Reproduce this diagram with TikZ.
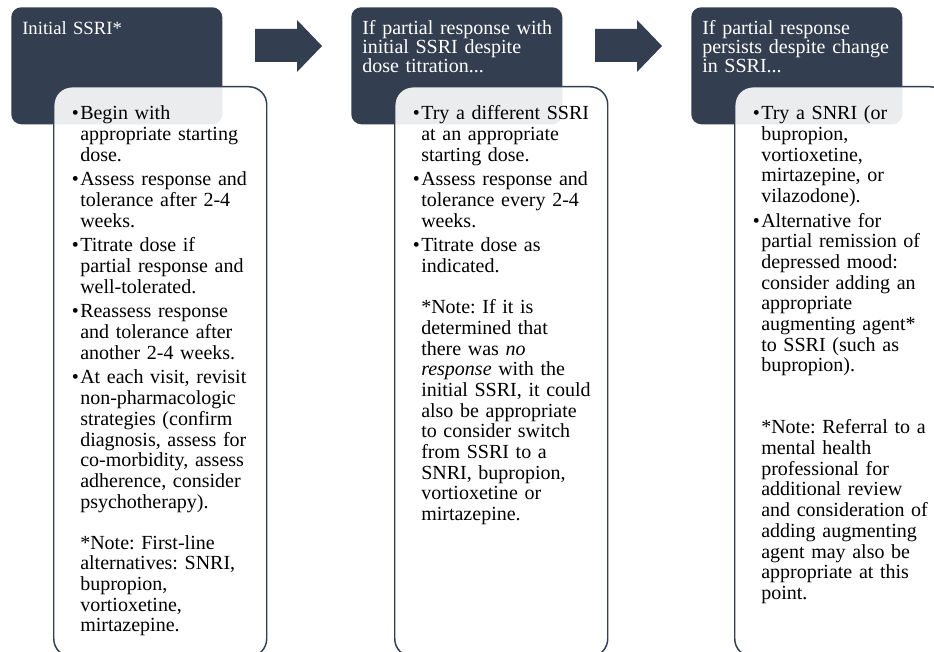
\documentclass[tikz,border=0pt]{standalone}
\usepackage{fontspec}
\setmainfont{Liberation Serif}
\usetikzlibrary{positioning}
\definecolor{slate}{RGB}{51,63,80}
\newcommand{\itemdot}{\leavevmode\llap{\textbullet\kern1pt}}
\frenchspacing

\begin{document}
\begin{tikzpicture}[x=0.75pt,y=-0.75pt,
    head/.style={fill=slate,rounded corners=7.5pt,minimum width=158.25pt,minimum height=87.75pt,anchor=north west,inner sep=0pt},
    panel/.style={draw=slate,line width=1.1pt,fill=white,fill opacity=0.9,rounded corners=13.5pt,minimum width=159.75pt,minimum height=427.5pt,anchor=north west,inner sep=0pt},
    headtext/.style={anchor=base west,inner sep=0pt,text width=157pt,align=left,text=white,font={\fontsize{15}{14.2}\selectfont\lineskiplimit=-5pt}},
    paneltext/.style={anchor=base west,inner sep=0pt,text width=150pt,align=left,text=black,font=\fontsize{15}{15.5}\selectfont}
  ]
    \useasboundingbox (0,0) rectangle (934,652);
    \clip (0,0) rectangle (934,652);

    % Header boxes and step panels
    \foreach \i/\x in {1/11,2/351,3/691} {
      \node[head] (hd\i) at (\x,7) {};
    }
    \foreach \i/\x in {1/53,2/394,3/734} {
      \node[panel] (pn\i) at (\x,86) {};
    }

    % Block arrows between the steps
    \foreach \dx in {0,340} {
      \fill[slate] ({255+\dx},29) -- ({297+\dx},29) -- ({297+\dx},20) -- ({322+\dx},46)
        -- ({297+\dx},72) -- ({297+\dx},62) -- ({255+\dx},62) -- cycle;
    }

    % Header texts
    \node[headtext,font=\fontsize{14}{14.2}\selectfont] (ht1) at (22,35) {Initial SSRI*};
    \node[headtext] (ht2) at (362,35) {If partial response with\\initial SSRI despite\\dose titration...};
    \node[headtext] (ht3) at (702,35) {If partial response\\persists despite change\\in SSRI...};

    % Step 1
    \node[paneltext] (tx1) at (80,120) {%
      \itemdot Begin with\\
      appropriate starting\\
      dose.\\[3pt]
      \itemdot Assess response and\\
      tolerance after 2-4\\
      weeks.\\[3pt]
      \itemdot Titrate dose if\\
      partial response and\\
      well-tolerated.\\[3pt]
      \itemdot Reassess response\\
      and tolerance after\\
      another 2-4 weeks.\\[3pt]
      \itemdot At each visit, revisit\\
      non-pharmacologic\\
      strategies (confirm\\
      diagnosis, assess for\\
      co-morbidity, assess\\
      adherence, consider\\
      psychotherapy).\\[15.5pt]
      *Note: First-line\\
      alternatives: SNRI,\\
      bupropion,\\
      vortioxetine,\\
      mirtazepine.};

    % Step 2
    \node[paneltext] (tx2) at (421,120) {%
      \itemdot Try a different SSRI\\
      at an appropriate\\
      starting dose.\\[3pt]
      \itemdot Assess response and\\
      tolerance every 2-4\\
      weeks.\\[3pt]
      \itemdot Titrate dose as\\
      indicated.\\[15.5pt]
      *Note: If it is\\
      determined that\\
      there was \textit{no}\\
      \textit{response} with the\\
      initial SSRI, it could\\
      also be appropriate\\
      to consider switch\\
      from SSRI to a\\
      SNRI, bupropion,\\
      vortioxetine or\\
      mirtazepine.};

    % Step 3
    \node[paneltext] (tx3) at (761,120) {%
      \itemdot Try a SNRI (or\\
      bupropion,\\
      vortioxetine,\\
      mirtazepine, or\\
      vilazodone).\\[3pt]
      \itemdot Alternative for\\
      partial remission of\\
      depressed mood:\\
      consider adding an\\
      appropriate\\
      augmenting agent*\\
      to SSRI (such as\\
      bupropion).\\[31pt]
      *Note: Referral to a\\
      mental health\\
      professional for\\
      additional review\\
      and consideration of\\
      adding augmenting\\
      agent may also be\\
      appropriate at this\\
      point.};
\end{tikzpicture}
\end{document}
